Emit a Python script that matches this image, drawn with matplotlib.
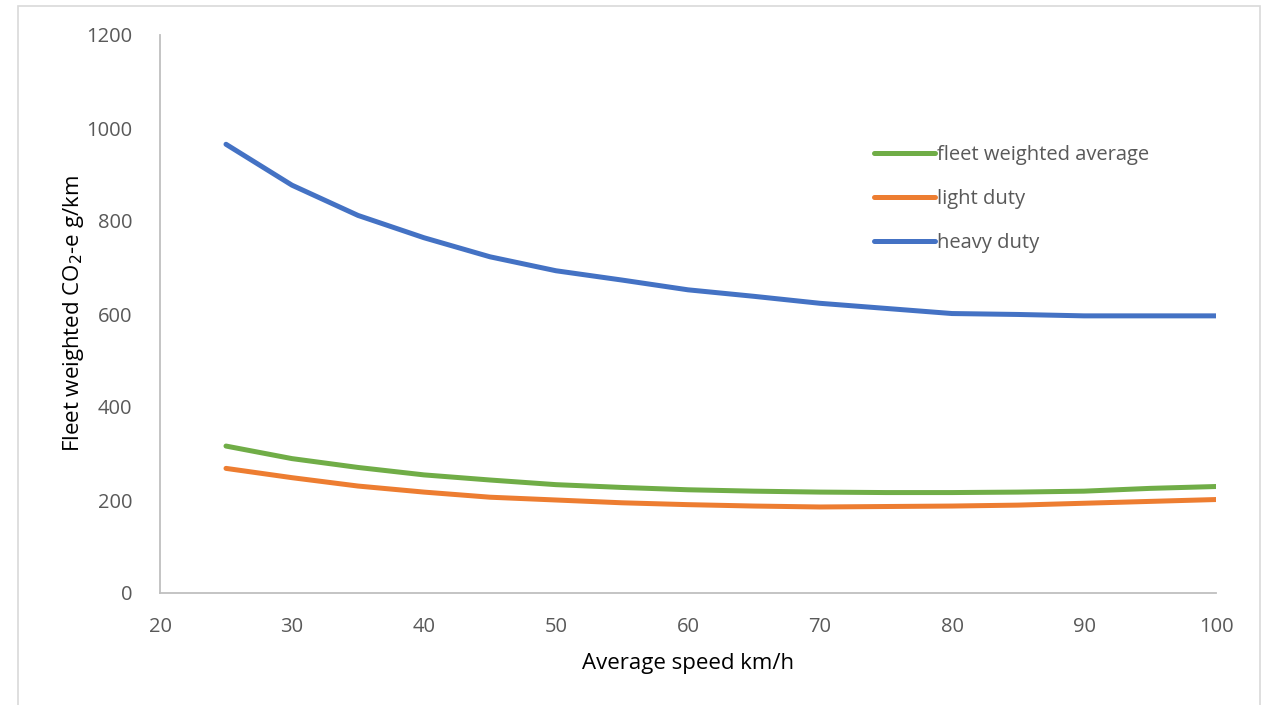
import matplotlib.pyplot as plt
from matplotlib.patches import Rectangle

plt.rcParams['font.family'] = ['Open Sans', 'DejaVu Sans']

# velocidad media (km/h)
speed = [25, 30, 35, 40, 45, 50, 55, 60, 65, 70, 75, 80, 85, 90, 95, 100]
heavy = [965, 877, 812, 764, 723, 693, 673, 652, 638, 623, 612, 601, 599, 596, 596, 596]
fleet = [316, 289, 270, 254, 243, 233, 227, 222, 219, 217, 216, 216, 217, 219, 225, 229]
light = [268, 248, 230, 217, 206, 200, 194, 190, 187, 185, 186, 187, 189, 193, 197, 201]

gris = '#595959'
fig = plt.figure(figsize=(12.66, 7.05), dpi=100)
ax = fig.add_axes([160/1266, 112/705, 1056/1266, 558/705])

# marco exterior
fig.patches.append(Rectangle((18/1266, -0.01), 1242/1266, 699/705 + 0.01,
                             transform=fig.transFigure, fill=False,
                             edgecolor='#d9d9d9', linewidth=1.2))

l_heavy, = ax.plot(speed, heavy, color='#4472C4', linewidth=3.6, solid_capstyle='round', solid_joinstyle='round')
l_light, = ax.plot(speed, light, color='#ED7D31', linewidth=3.6, solid_capstyle='round', solid_joinstyle='round')
l_fleet, = ax.plot(speed, fleet, color='#70AD47', linewidth=3.6, solid_capstyle='round', solid_joinstyle='round')

ax.set_xlim(20, 100)
ax.set_ylim(0, 1200)
ax.set_xticks(range(20, 101, 10))
ax.set_yticks(range(0, 1201, 200))

for s in ['top', 'right']:
    ax.spines[s].set_visible(False)
for s in ['left', 'bottom']:
    ax.spines[s].set_color('#bfbfbf')
    ax.spines[s].set_linewidth(1.3)
ax.tick_params(length=0, labelsize=14.5, labelcolor=gris)
ax.tick_params(axis='x', pad=17)
ax.tick_params(axis='y', pad=20)

ax.set_xlabel('Average speed km/h', fontsize=16, labelpad=12)
ax.set_ylabel('Fleet weighted CO$_2$-e g/km', fontsize=16, labelpad=0)

leg = ax.legend([l_fleet, l_light, l_heavy], ['fleet weighted average', 'light duty', 'heavy duty'],
                loc='upper left', bbox_to_anchor=(856/1266, 578/705), bbox_transform=fig.transFigure,
                frameon=False, fontsize=14.5, handlelength=3.0, handletextpad=0.1, labelspacing=1.2)
for t in leg.get_texts():
    t.set_color(gris)

fig.savefig('out.png', dpi=100)
